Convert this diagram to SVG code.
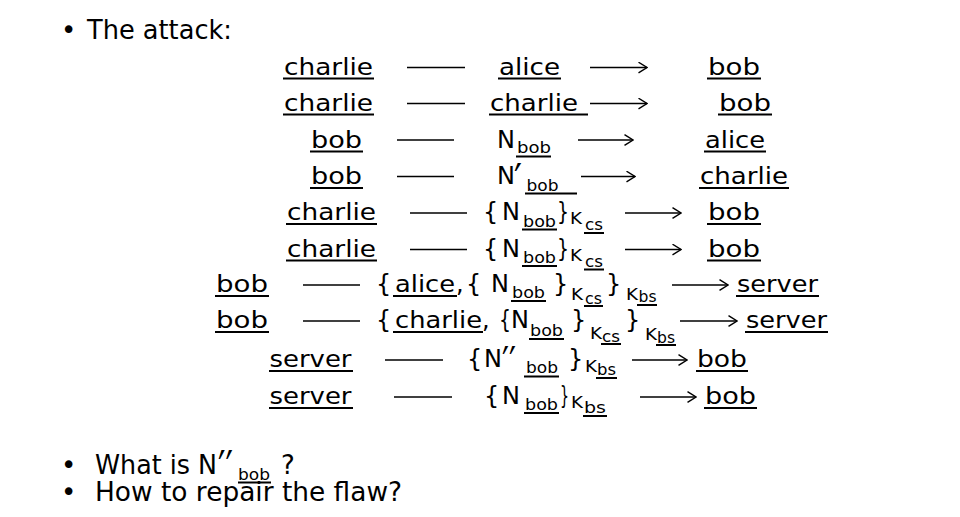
<svg xmlns="http://www.w3.org/2000/svg" width="960" height="517" viewBox="0 0 960 517">
<defs>
<style>
text{font-family:"DejaVu Sans","Liberation Sans",sans-serif;fill:#000}
.h{font-size:26px}
.m{font-size:23px}
.n{font-size:24px}
.p{font-size:42px}
.pq{font-size:48px}
.s{font-size:15px}
.k{font-size:16px}
.c{font-size:15px}
.u{stroke:#000;stroke-width:2}
.d{stroke:#000;stroke-width:1.5}
.a{stroke:#000;stroke-width:1.5;marker-end:url(#ah)}
</style>
<marker id="ah" viewBox="0 0 10 12" refX="9.5" refY="6" markerWidth="10" markerHeight="12" markerUnits="userSpaceOnUse" orient="auto">
<path d="M1,0.7 L9.5,6 L1,11.3" fill="none" stroke="#000" stroke-width="1.4"/>
</marker>
</defs>
<rect width="960" height="517" fill="#fff"/>

<g id="header">
<text class="h" y="38.5"><tspan x="61">•</tspan><tspan x="87" textLength="145" lengthAdjust="spacingAndGlyphs">The attack:</tspan></text>
</g>

<g id="row1">
<text class="m" x="284" y="74.5" textLength="89" lengthAdjust="spacingAndGlyphs">charlie</text>
<line class="u" x1="283" y1="78.5" x2="374" y2="78.5"/>
<text class="m" x="499" y="74.5" textLength="61" lengthAdjust="spacingAndGlyphs">alice</text>
<line class="u" x1="498" y1="78.5" x2="561" y2="78.5"/>
<text class="m" x="708" y="74.5" textLength="52" lengthAdjust="spacingAndGlyphs">bob</text>
<line class="u" x1="707" y1="78.5" x2="761" y2="78.5"/>
</g>

<g id="row2">
<text class="m" x="284" y="110.5" textLength="89" lengthAdjust="spacingAndGlyphs">charlie</text>
<line class="u" x1="283" y1="114.5" x2="374" y2="114.5"/>
<text class="m" x="490" y="110.5" textLength="88" lengthAdjust="spacingAndGlyphs">charlie</text>
<line class="u" x1="489" y1="114.5" x2="588" y2="114.5"/>
<text class="m" x="719" y="110.5" textLength="52" lengthAdjust="spacingAndGlyphs">bob</text>
<line class="u" x1="718" y1="114.5" x2="772" y2="114.5"/>
</g>

<g id="row3">
<text class="m" x="311" y="147.5" textLength="51" lengthAdjust="spacingAndGlyphs">bob</text>
<line class="u" x1="310" y1="151.5" x2="363" y2="151.5"/>
<text class="n"><tspan x="497" y="147.5">N</tspan><tspan class="s" x="517" y="153" textLength="34" lengthAdjust="spacingAndGlyphs">bob</tspan></text>
<line class="u" x1="516" y1="156.5" x2="551" y2="156.5"/>
<text class="m" x="705" y="147.5" textLength="60" lengthAdjust="spacingAndGlyphs">alice</text>
<line class="u" x1="704" y1="151.5" x2="766" y2="151.5"/>
</g>

<g id="row4">
<text class="m" x="311" y="184" textLength="51" lengthAdjust="spacingAndGlyphs">bob</text>
<line class="u" x1="310" y1="188" x2="363" y2="188"/>
<text class="n"><tspan x="497" y="184">N</tspan><tspan class="p" x="514" y="194" textLength="8" lengthAdjust="spacingAndGlyphs">′</tspan><tspan class="s" x="526.5" y="190.5" textLength="32" lengthAdjust="spacingAndGlyphs">bob</tspan></text>
<line class="u" x1="525" y1="193.5" x2="577" y2="193.5"/>
<text class="m" x="700" y="184" textLength="88" lengthAdjust="spacingAndGlyphs">charlie</text>
<line class="u" x1="699" y1="188" x2="789" y2="188"/>
</g>

<g id="row5">
<text class="m" x="287" y="220" textLength="89" lengthAdjust="spacingAndGlyphs">charlie</text>
<line class="u" x1="286" y1="224" x2="377" y2="224"/>
<text class="n"><tspan x="483" y="220">{</tspan><tspan x="502" y="220">N</tspan><tspan class="s" x="523" y="226.5" textLength="33" lengthAdjust="spacingAndGlyphs">bob</tspan><tspan x="557" y="220" textLength="12" lengthAdjust="spacingAndGlyphs">}</tspan><tspan class="k" x="570" y="224" textLength="12" lengthAdjust="spacingAndGlyphs">K</tspan><tspan class="c" x="585" y="230" textLength="18" lengthAdjust="spacingAndGlyphs">cs</tspan></text>
<line class="u" x1="522" y1="229.5" x2="557" y2="229.5"/>
<line class="u" x1="584" y1="233" x2="604" y2="233"/>
<text class="m" x="708" y="220" textLength="52" lengthAdjust="spacingAndGlyphs">bob</text>
<line class="u" x1="707" y1="224" x2="761" y2="224"/>
</g>

<g id="row6">
<text class="m" x="287" y="256.5" textLength="89" lengthAdjust="spacingAndGlyphs">charlie</text>
<line class="u" x1="286" y1="260.5" x2="377" y2="260.5"/>
<text class="n"><tspan x="483" y="256.5">{</tspan><tspan x="502" y="256.5">N</tspan><tspan class="s" x="523" y="263" textLength="33" lengthAdjust="spacingAndGlyphs">bob</tspan><tspan x="557" y="256.5" textLength="12" lengthAdjust="spacingAndGlyphs">}</tspan><tspan class="k" x="570" y="260.5" textLength="12" lengthAdjust="spacingAndGlyphs">K</tspan><tspan class="c" x="585" y="266.5" textLength="18" lengthAdjust="spacingAndGlyphs">cs</tspan></text>
<line class="u" x1="522" y1="266" x2="557" y2="266"/>
<line class="u" x1="584" y1="269.5" x2="604" y2="269.5"/>
<text class="m" x="708" y="256.5" textLength="52" lengthAdjust="spacingAndGlyphs">bob</text>
<line class="u" x1="707" y1="260.5" x2="761" y2="260.5"/>
</g>

<g id="row7">
<text class="m" x="216" y="292" textLength="52" lengthAdjust="spacingAndGlyphs">bob</text>
<line class="u" x1="215" y1="296" x2="269" y2="296"/>
<text class="n"><tspan x="376" y="292">{</tspan><tspan class="m" x="395" y="292" textLength="60" lengthAdjust="spacingAndGlyphs">alice</tspan><tspan x="456" y="292">,</tspan><tspan x="466" y="292">{</tspan><tspan x="491" y="292">N</tspan><tspan class="s" x="512" y="298" textLength="33" lengthAdjust="spacingAndGlyphs">bob</tspan><tspan x="553" y="292">}</tspan><tspan class="k" x="571" y="300" textLength="12" lengthAdjust="spacingAndGlyphs">K</tspan><tspan class="c" x="585" y="303.5" textLength="17" lengthAdjust="spacingAndGlyphs">cs</tspan><tspan x="606" y="292">}</tspan><tspan class="k" x="626" y="299.5" textLength="12" lengthAdjust="spacingAndGlyphs">K</tspan><tspan class="c" x="638.5" y="302" textLength="18" lengthAdjust="spacingAndGlyphs">bs</tspan></text>
<line class="u" x1="393" y1="296" x2="457" y2="296"/>
<line class="u" x1="511" y1="301" x2="546" y2="301"/>
<line class="u" x1="584" y1="306" x2="603" y2="306"/>
<line class="u" x1="637" y1="305" x2="657" y2="305"/>
<text class="m" x="737" y="292" textLength="81" lengthAdjust="spacingAndGlyphs">server</text>
<line class="u" x1="736" y1="296" x2="819" y2="296"/>
</g>

<g id="row8">
<text class="m" x="216" y="328" textLength="52" lengthAdjust="spacingAndGlyphs">bob</text>
<line class="u" x1="215" y1="332" x2="269" y2="332"/>
<text class="n"><tspan x="376" y="328">{</tspan><tspan class="m" x="395" y="328" textLength="87" lengthAdjust="spacingAndGlyphs">charlie</tspan><tspan x="482" y="328">,</tspan><tspan x="499" y="328" textLength="12" lengthAdjust="spacingAndGlyphs">{</tspan><tspan x="511" y="328">N</tspan><tspan class="s" x="530" y="336" textLength="33" lengthAdjust="spacingAndGlyphs">bob</tspan><tspan x="571" y="328">}</tspan><tspan class="k" x="590" y="339" textLength="12" lengthAdjust="spacingAndGlyphs">K</tspan><tspan class="c" x="602" y="341.5" textLength="18" lengthAdjust="spacingAndGlyphs">cs</tspan><tspan x="625" y="328">}</tspan><tspan class="k" x="645" y="340" textLength="12" lengthAdjust="spacingAndGlyphs">K</tspan><tspan class="c" x="657" y="342.5" textLength="18" lengthAdjust="spacingAndGlyphs">bs</tspan></text>
<line class="u" x1="393" y1="332" x2="483" y2="332"/>
<line class="u" x1="529" y1="339" x2="564" y2="339"/>
<line class="u" x1="601" y1="344" x2="621" y2="344"/>
<line class="u" x1="656" y1="345" x2="676" y2="345"/>
<text class="m" x="746" y="328" textLength="81" lengthAdjust="spacingAndGlyphs">server</text>
<line class="u" x1="745" y1="332" x2="828" y2="332"/>
</g>

<g id="row9">
<text class="m" x="269.5" y="367" textLength="82" lengthAdjust="spacingAndGlyphs">server</text>
<line class="u" x1="269" y1="371" x2="353" y2="371"/>
<text class="n"><tspan x="467" y="367">{</tspan><tspan x="484" y="367">N</tspan><tspan class="p" x="502" y="377" textLength="14" lengthAdjust="spacingAndGlyphs">′′</tspan><tspan class="s" x="526" y="373" textLength="32" lengthAdjust="spacingAndGlyphs">bob</tspan><tspan x="568" y="367">}</tspan><tspan class="k" x="585" y="371.5" textLength="12" lengthAdjust="spacingAndGlyphs">K</tspan><tspan class="c" x="597" y="375" textLength="19" lengthAdjust="spacingAndGlyphs">bs</tspan></text>
<line class="u" x1="524" y1="376.5" x2="559" y2="376.5"/>
<line class="u" x1="596" y1="378" x2="617" y2="378"/>
<text class="m" x="697" y="367" textLength="50" lengthAdjust="spacingAndGlyphs">bob</text>
<line class="u" x1="696" y1="371" x2="748" y2="371"/>
</g>

<g id="row10">
<text class="m" x="269.5" y="404" textLength="82" lengthAdjust="spacingAndGlyphs">server</text>
<line class="u" x1="269" y1="408" x2="353" y2="408"/>
<text class="n"><tspan x="484" y="404">{</tspan><tspan x="502" y="404">N</tspan><tspan class="s" x="525" y="410" textLength="33" lengthAdjust="spacingAndGlyphs">bob</tspan><tspan x="560" y="404" textLength="9" lengthAdjust="spacingAndGlyphs">}</tspan><tspan class="k" x="571" y="408" textLength="12" lengthAdjust="spacingAndGlyphs">K</tspan><tspan class="c" x="584" y="413" textLength="22" lengthAdjust="spacingAndGlyphs">bs</tspan></text>
<line class="u" x1="524" y1="413" x2="559" y2="413"/>
<line class="u" x1="583" y1="416" x2="607" y2="416"/>
<text class="m" x="705" y="404" textLength="51" lengthAdjust="spacingAndGlyphs">bob</text>
<line class="u" x1="704" y1="408" x2="757" y2="408"/>
</g>

<g id="connectors">
<line class="d" x1="407" y1="67.5" x2="465" y2="67.5"/>
<line class="a" x1="590" y1="67.5" x2="647" y2="67.5"/>
<line class="d" x1="407" y1="103.5" x2="465" y2="103.5"/>
<line class="a" x1="590" y1="103.5" x2="647" y2="103.5"/>
<line class="d" x1="397" y1="140" x2="454" y2="140"/>
<line class="a" x1="578" y1="140" x2="633" y2="140"/>
<line class="d" x1="397" y1="176.5" x2="454" y2="176.5"/>
<line class="a" x1="581" y1="176.5" x2="635" y2="176.5"/>
<line class="d" x1="410" y1="213" x2="467" y2="213"/>
<line class="a" x1="625" y1="213" x2="681" y2="213"/>
<line class="d" x1="410" y1="249.5" x2="467" y2="249.5"/>
<line class="a" x1="625" y1="249.5" x2="681" y2="249.5"/>
<line class="d" x1="303" y1="285" x2="360" y2="285"/>
<line class="a" x1="672" y1="285" x2="728" y2="285"/>
<line class="d" x1="303" y1="321" x2="360" y2="321"/>
<line class="a" x1="680" y1="321" x2="737" y2="321"/>
<line class="d" x1="385" y1="360" x2="443" y2="360"/>
<line class="a" x1="632" y1="360" x2="687" y2="360"/>
<line class="d" x1="394" y1="397" x2="452" y2="397"/>
<line class="a" x1="640" y1="397" x2="696" y2="397"/>
</g>

<g id="questions">
<text class="h"><tspan x="61" y="473.5">•</tspan><tspan x="95" y="473.5" textLength="122" lengthAdjust="spacingAndGlyphs">What is N</tspan><tspan class="pq" x="218" y="484.5" textLength="15" lengthAdjust="spacingAndGlyphs">′′</tspan><tspan class="s" x="238" y="480" textLength="32" lengthAdjust="spacingAndGlyphs">bob</tspan><tspan x="281" y="473.5">?</tspan></text>
<line class="u" x1="238" y1="482.5" x2="271" y2="482.5"/>
<text class="h"><tspan x="61" y="501">•</tspan><tspan x="95" y="501" textLength="307" lengthAdjust="spacingAndGlyphs">How to repair the flaw?</tspan></text>
</g>
</svg>
